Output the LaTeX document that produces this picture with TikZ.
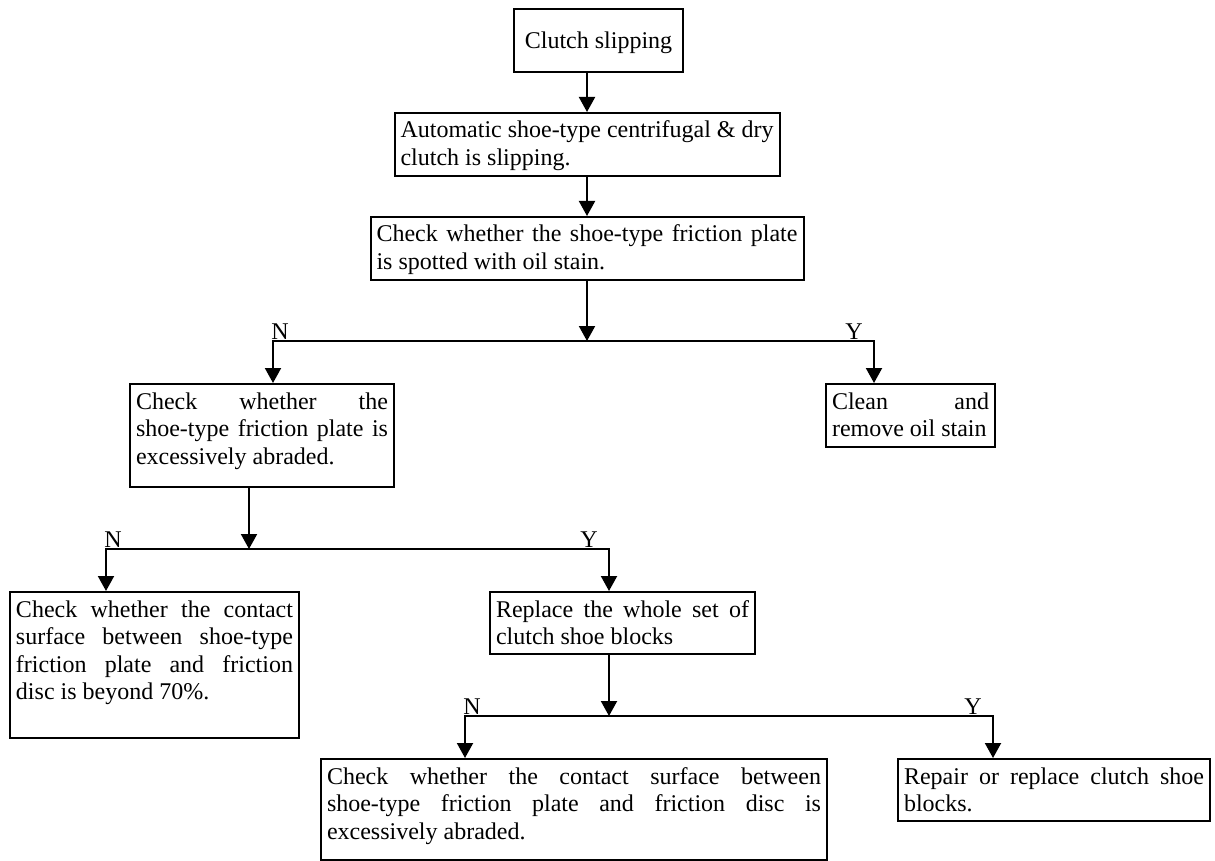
\documentclass[tikz,border=0pt]{standalone}
\usepackage{fontspec}
\setmainfont{Liberation Serif}
\usetikzlibrary{arrows.meta,calc}
\tolerance=10000
\hbadness=10000
\hyphenpenalty=10000
\exhyphenpenalty=10000
\tikzset{
  pbox/.style={draw,line width=1pt,anchor=north west,inner xsep=3pt,inner ysep=0pt,
               align=justify,text height=12.5pt,fill=white},
  pboxc/.style={pbox,align=center,text height=20pt,text depth=11.5pt},
  flowarrow/.style={->,>={Triangle[width=8pt,length=7.5pt]},line width=1pt},
  ynlabel/.style={inner sep=0pt},
}
\begin{document}
\begin{tikzpicture}[x=0.5pt,y=-0.5pt,font=\fontsize{12}{13.8}\selectfont]
  \useasboundingbox (0,0) rectangle (1215,861);
  % boxes
  \node[pboxc,minimum width=84.5pt] (slipping) at (513,8) {Clutch slipping};
  \node[pbox,text width=186.5pt,text depth=19pt] (dryclutch) at (393.5,112)
       {Automatic shoe-type centrifugal \& dry\linebreak clutch is slipping.};
  \node[pbox,text width=210.5pt,text depth=19pt] (oilstain) at (369.5,216)
       {Check whether the shoe-type friction plate\linebreak is spotted with oil stain.};
  \node[pbox,text width=126pt,text depth=39pt] (abraded) at (129,383)
       {Check whether the\linebreak shoe-type friction plate is\linebreak excessively abraded.};
  \node[pbox,text width=78.5pt,text depth=19pt] (cleanoil) at (825,383)
       {Clean and\linebreak remove oil stain};
  \node[pbox,text width=138.5pt,text depth=60.5pt] (contact70) at (9,591)
       {Check whether the contact\linebreak surface between shoe-type\linebreak
        friction plate and friction\linebreak disc is beyond 70\%.};
  \node[pbox,text width=126.5pt,text depth=18.5pt] (replaceset) at (489,591)
       {Replace the whole set of\linebreak clutch shoe blocks};
  \node[pbox,text width=247pt,text depth=38pt] (discabraded) at (320,758)
       {Check whether the contact surface between\linebreak
        shoe-type friction plate and friction disc is\linebreak excessively abraded.};
  \node[pbox,text width=150pt,text depth=18.5pt] (repairshoe) at (897,758)
       {Repair or replace clutch shoe\linebreak blocks.};

  % straight run
  \draw[flowarrow] (dryclutch.north |- slipping.south) -- (dryclutch.north);
  \draw[flowarrow] (dryclutch.south) -- (oilstain.north);

  % oil stain branch
  \coordinate (oilN) at (273,341);
  \coordinate (oilY) at (874,341);
  \coordinate (oilJ) at (oilstain.south |- oilN);
  \draw[flowarrow] (oilstain.south) -- (oilJ);
  \draw[flowarrow] (oilJ) -- (oilN) -- (oilN |- abraded.north);
  \draw[flowarrow] (oilJ) -- (oilY) -- (oilY |- cleanoil.north);
  \node[ynlabel,anchor=base west] (oilNlbl) at ($(oilN)+(-2,-2)$) {N};
  \node[ynlabel,anchor=base east] (oilYlbl) at ($(oilY)+(-11,-2)$) {Y};

  % abrasion branch
  \coordinate (abrN) at (106,549);
  \coordinate (abrY) at (609,549);
  \coordinate (abrJ) at (249,549);
  \draw[flowarrow] (abrJ |- abraded.south) -- (abrJ);
  \draw[flowarrow] (abrJ) -- (abrN) -- (abrN |- contact70.north);
  \draw[flowarrow] (abrJ) -- (abrY) -- (abrY |- replaceset.north);
  \node[ynlabel,anchor=base west] (abrNlbl) at ($(abrN)+(-2,-2)$) {N};
  \node[ynlabel,anchor=base east] (abrYlbl) at ($(abrY)+(-11,-2)$) {Y};

  % shoe block branch
  \coordinate (repN) at (465,716);
  \coordinate (repY) at (993,716);
  \coordinate (repJ) at (609,716);
  \draw[flowarrow] (repJ |- replaceset.south) -- (repJ);
  \draw[flowarrow] (repJ) -- (repN) -- (repN |- discabraded.north);
  \draw[flowarrow] (repJ) -- (repY) -- (repY |- repairshoe.north);
  \node[ynlabel,anchor=base west] (repNlbl) at ($(repN)+(-2,-2)$) {N};
  \node[ynlabel,anchor=base east] (repYlbl) at ($(repY)+(-11,-2)$) {Y};
\end{tikzpicture}
\end{document}
